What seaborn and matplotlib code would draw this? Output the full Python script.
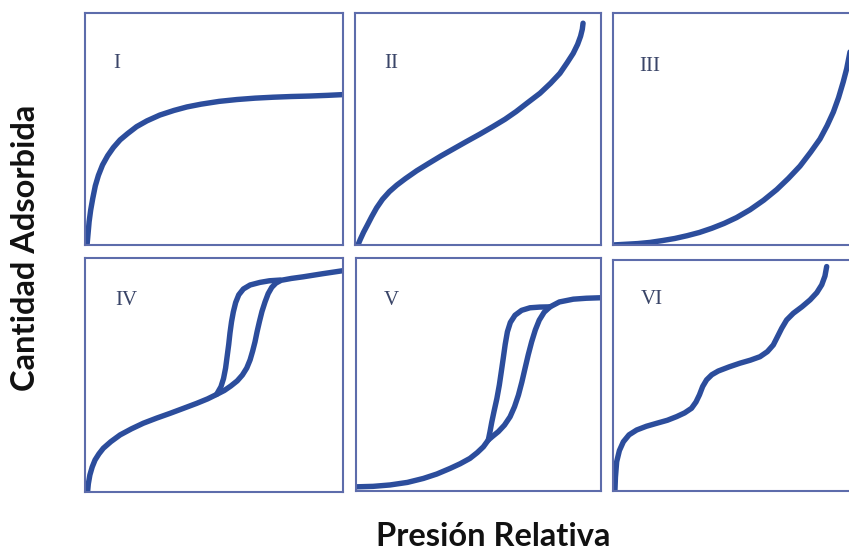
import numpy as np
import pandas as pd
import matplotlib
matplotlib.use("Agg")
import matplotlib.pyplot as plt
import seaborn as sns

# Isotermas de adsorción (tipos I-VI) (0-1 en cada panel)
tipo1_x = [0.008, 0.012, 0.016, 0.022, 0.030, 0.040, 0.052, 0.068, 0.088, 0.110, 0.136, 0.165, 0.200,
           0.240, 0.290, 0.345, 0.395, 0.450, 0.520, 0.589, 0.660, 0.730, 0.800, 0.870, 0.940, 0.996]
tipo1_y = [0.000, 0.050, 0.100, 0.150, 0.200, 0.255, 0.300, 0.345, 0.385, 0.420, 0.453, 0.480, 0.510,
           0.535, 0.560, 0.580, 0.595, 0.607, 0.619, 0.627, 0.633, 0.637, 0.640, 0.642, 0.645, 0.648]

tipo2_x = [0.012, 0.022, 0.035, 0.050, 0.068, 0.088, 0.112, 0.140, 0.170, 0.205, 0.251, 0.300, 0.350, 0.400, 0.450,
           0.508, 0.560, 0.610, 0.655, 0.700, 0.752, 0.795, 0.833, 0.862, 0.887, 0.905, 0.917, 0.924, 0.927]
tipo2_y = [0.000, 0.025, 0.055, 0.085, 0.122, 0.160, 0.197, 0.230, 0.258, 0.286, 0.320, 0.352, 0.384, 0.414, 0.444,
           0.478, 0.510, 0.542, 0.575, 0.612, 0.654, 0.697, 0.740, 0.785, 0.826, 0.865, 0.900, 0.930, 0.956]

tipo3_x = [0.000, 0.050, 0.100, 0.150, 0.200, 0.250, 0.300, 0.350, 0.400, 0.450, 0.500, 0.555, 0.610,
           0.663, 0.710, 0.757, 0.800, 0.838, 0.867, 0.892, 0.913, 0.932, 0.946, 0.957, 0.968, 0.978]
tipo3_y = [0.000, 0.003, 0.006, 0.011, 0.019, 0.028, 0.040, 0.054, 0.072, 0.093, 0.118, 0.152, 0.193,
           0.239, 0.287, 0.340, 0.400, 0.457, 0.515, 0.573, 0.635, 0.703, 0.760, 0.819, 0.880, 0.940]

tipo4_ads_x = [0.010, 0.013, 0.019, 0.028, 0.039, 0.054, 0.071, 0.100, 0.136, 0.180, 0.226, 0.278, 0.329, 0.380,
               0.433, 0.475, 0.510, 0.540, 0.565, 0.590, 0.610, 0.627, 0.640, 0.650, 0.659, 0.667, 0.676, 0.686,
               0.698, 0.710, 0.724, 0.740, 0.760, 0.800, 0.846, 0.920, 0.999]
tipo4_ads_y = [0.000, 0.035, 0.073, 0.107, 0.137, 0.163, 0.187, 0.215, 0.244, 0.270, 0.294, 0.316, 0.336, 0.357,
               0.379, 0.398, 0.417, 0.434, 0.453, 0.475, 0.500, 0.530, 0.565, 0.603, 0.642, 0.685, 0.728, 0.772,
               0.813, 0.848, 0.875, 0.893, 0.905, 0.913, 0.920, 0.933, 0.946]
tipo4_des_x = [0.756, 0.715, 0.678, 0.640, 0.614, 0.596, 0.584, 0.575, 0.568, 0.562, 0.557, 0.551, 0.545, 0.537, 0.527, 0.510]
tipo4_des_y = [0.906, 0.903, 0.896, 0.885, 0.868, 0.843, 0.810, 0.770, 0.728, 0.680, 0.630, 0.580, 0.530, 0.485, 0.450, 0.417]

tipo5_ads_x = [0.003, 0.070, 0.139, 0.210, 0.275, 0.330, 0.384, 0.425, 0.465, 0.495, 0.520, 0.540, 0.560, 0.581, 0.606,
               0.629, 0.647, 0.663, 0.677, 0.690, 0.703, 0.717, 0.732, 0.748, 0.768, 0.792, 0.830, 0.887, 0.940, 0.996]
tipo5_ads_y = [0.018, 0.020, 0.026, 0.037, 0.054, 0.073, 0.097, 0.117, 0.140, 0.165, 0.190, 0.219, 0.237, 0.255, 0.283,
               0.319, 0.362, 0.412, 0.468, 0.527, 0.585, 0.641, 0.692, 0.734, 0.768, 0.791, 0.812, 0.824, 0.828, 0.830]
tipo5_des_x = [0.792, 0.750, 0.710, 0.676, 0.649, 0.630, 0.618, 0.609, 0.601, 0.593, 0.585, 0.575, 0.563, 0.554, 0.547, 0.540]
tipo5_des_y = [0.791, 0.790, 0.787, 0.776, 0.755, 0.724, 0.684, 0.630, 0.570, 0.512, 0.455, 0.397, 0.340, 0.295, 0.255, 0.219]

tipo6_x = [0.008, 0.010, 0.015, 0.026, 0.042, 0.065, 0.096, 0.135, 0.177, 0.220, 0.258, 0.290, 0.318, 0.336, 0.350, 0.363, 0.379,
           0.400, 0.426, 0.470, 0.514, 0.556, 0.595, 0.625, 0.649, 0.667, 0.683, 0.703, 0.730, 0.765, 0.798, 0.825, 0.845, 0.858, 0.865]
tipo6_y = [0.004, 0.060, 0.127, 0.175, 0.213, 0.243, 0.264, 0.280, 0.293, 0.306, 0.322, 0.338, 0.358, 0.385, 0.416, 0.452, 0.481,
           0.503, 0.519, 0.537, 0.553, 0.566, 0.581, 0.603, 0.632, 0.670, 0.704, 0.740, 0.769, 0.797, 0.827, 0.858, 0.892, 0.930, 0.971]

etiquetas = ["I", "II", "III", "IV", "V", "VI"]

sns.set_theme(style="white")
plt.rcParams['font.family'] = ['Lato', 'DejaVu Sans']

color_linea = "#2c4d9c"
color_marco = "#5d6cab"
color_texto = "#3a4568"

fig = plt.figure(figsize=(8.49, 5.53), dpi=100)

# posiciones de los paneles [izq, abajo, ancho, alto] en fracción de figura
posiciones = [
    [0.1001, 0.557, 0.3039, 0.4195],
    [0.4181, 0.557, 0.2898, 0.4195],
    [0.7220, 0.557, 0.2910, 0.4195],
    [0.1001, 0.1103, 0.3039, 0.423],
    [0.4193, 0.1121, 0.2886, 0.421],
    [0.7220, 0.1121, 0.2910, 0.418],
]
pos_etiqueta = [(0.124, 0.784), (0.149, 0.783), (0.150, 0.770),
                (0.162, 0.820), (0.146, 0.820), (0.157, 0.827)]

curvas = [
    [(tipo1_x, tipo1_y)],
    [(tipo2_x, tipo2_y)],
    [(tipo3_x, tipo3_y)],
    [(tipo4_ads_x, tipo4_ads_y), (tipo4_des_x, tipo4_des_y)],
    [(tipo5_ads_x, tipo5_ads_y), (tipo5_des_x, tipo5_des_y)],
    [(tipo6_x, tipo6_y)],
]

for i in range(6):
    ax = fig.add_axes(posiciones[i])
    for xs, ys in curvas[i]:
        df = pd.DataFrame({"p": xs, "q": ys})
        sns.lineplot(data=df, x="p", y="q", sort=False, estimator=None, ax=ax,
                     color=color_linea, linewidth=3.9, solid_capstyle="round",
                     solid_joinstyle="round")
    ax.set_xlim(0, 1)
    ax.set_ylim(0, 1)
    ax.set_xticks([])
    ax.set_yticks([])
    ax.set_xlabel("")
    ax.set_ylabel("")
    for s in ax.spines.values():
        s.set_color(color_marco)
        s.set_linewidth(1.5)
    ax.text(pos_etiqueta[i][0], pos_etiqueta[i][1], etiquetas[i], transform=ax.transAxes,
            family=["Liberation Serif", "DejaVu Serif"], fontsize=15,
            color=color_texto, ha="center", va="center")

fig.text(0.030, 0.552, "Cantidad Adsorbida", rotation=90, ha="center", va="center",
         fontsize=23.5, fontweight="bold", color="#111111")
fig.text(0.581, 0.029, "Presión Relativa", ha="center", va="center",
         fontsize=23.5, fontweight="bold", color="#111111")

fig.savefig("out.png", dpi=100)
